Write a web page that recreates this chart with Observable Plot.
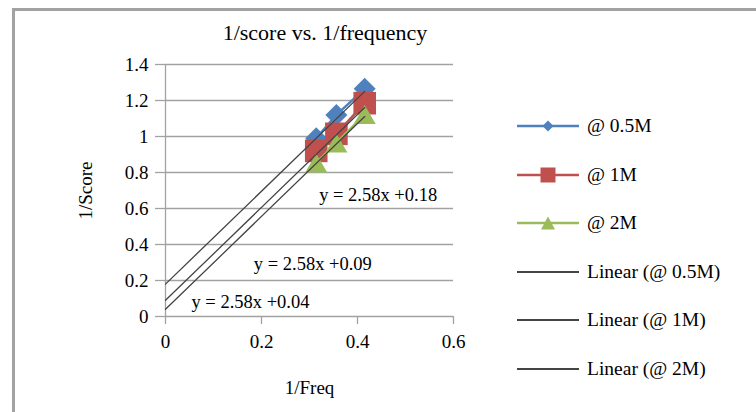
<!DOCTYPE html>
<html>
<head>
<meta charset="utf-8">
<script src="https://cdn.jsdelivr.net/npm/d3@7"></script>
<script src="https://cdn.jsdelivr.net/npm/@observablehq/plot@0.6"></script>
<style>
  html, body { margin: 0; padding: 0; background: #fff; }
  #wrap { position: relative; width: 756px; height: 412px; overflow: hidden; background: #fff;
          font-family: "Liberation Serif", "Times New Roman", serif; color: #000; }
  #frame { position: absolute; left: 12px; top: 8px; width: 800px; height: 500px;
           border-left: 3px solid #a2a2a2; border-top: 3px solid #a2a2a2; box-sizing: border-box; }
  #chart { position: absolute; left: 0; top: 0; }
  #title { position: absolute; left: 0; width: 650px; top: 21.5px; text-align: center;
           font-size: 22px; line-height: 22px; white-space: nowrap; }
  #legend { position: absolute; left: 517px; top: 101.75px; }
  .row { display: flex; align-items: center; height: 48.5px; }
  .row svg { display: block; }
  .row span { margin-left: 8px; font-size: 19.5px; white-space: nowrap; }
</style>
</head>
<body>
<div id="wrap">
  <div id="frame"></div>
  <div id="chart"></div>
  <div id="title"></div>
  <div id="legend"></div>
</div>
<script>
// ---- data ----
const chartTitle = "1/score vs. 1/frequency";
const xLabel = "1/Freq";
const yLabel = "1/Score";
const series = ["@ 0.5M", "@ 1M", "@ 2M"];
const trendNames = ["Linear (@ 0.5M)", "Linear (@ 1M)", "Linear (@ 2M)"];
const freq = [0.314, 0.356, 0.415];
const score05M = [0.99, 1.12, 1.265];
const score1M = [0.92, 1.015, 1.185];
const score2M = [0.853, 0.964, 1.122];
const slopes = [2.58, 2.58, 2.58];
const intercepts = [0.18, 0.09, 0.04];
const trendLabelX = [0.443, 0.307, 0.177];
const trendLabelY = [0.676, 0.292, 0.081];
const xTicks = [0, 0.2, 0.4, 0.6];
const xTickLabels = ["0", "0.2", "0.4", "0.6"];
const yTicks = [0, 0.2, 0.4, 0.6, 0.8, 1.0, 1.2, 1.4];
const yTickLabels = ["0", "0.2", "0.4", "0.6", "0.8", "1", "1.2", "1.4"];

// ---- styles ----
const colors = ["#4F81BD", "#C0504D", "#9BBB59"];
const trendColor = "#444444";
const gridColor = "#a2a2a2";
const font = "'Liberation Serif', 'Times New Roman', serif";

const diamondSym = { draw(ctx, size) { const h = Math.sqrt(size / Math.PI);
  ctx.moveTo(0, -h); ctx.lineTo(h, 0); ctx.lineTo(0, h); ctx.lineTo(-h, 0); ctx.closePath(); } };
const squareSym = { draw(ctx, size) { const h = Math.sqrt(size / Math.PI);
  ctx.moveTo(-h, -h); ctx.lineTo(h, -h); ctx.lineTo(h, h); ctx.lineTo(-h, h); ctx.closePath(); } };
const triangleSym = { draw(ctx, size) { const h = Math.sqrt(size / Math.PI);
  ctx.moveTo(0, -0.86 * h); ctx.lineTo(h, 0.86 * h); ctx.lineTo(-h, 0.86 * h); ctx.closePath(); } };
const symbols = [diamondSym, squareSym, triangleSym];
const markerR = [11, 11.3, 11];

const scores = [score05M, score1M, score2M];
const pts = scores.map((s, k) => freq.map((f, i) => ({x: f, y: s[i], k})));
const xMax = d3.max(freq);
const trends = slopes.flatMap((m, k) => [
  {x: 0, y: intercepts[k], k},
  {x: xMax, y: m * xMax + intercepts[k], k}
]);
const trendLabels = slopes.map((m, k) => ({
  x: trendLabelX[k], y: trendLabelY[k],
  text: `y = ${m}x +${intercepts[k].toFixed(2)}`
}));

const lookup = (ticks, labels) => d => labels[ticks.findIndex(t => Math.abs(t - d) < 1e-9)];

const seriesMarks = pts.flatMap((p, k) => [
  Plot.line(p, {x: "x", y: "y", stroke: colors[k], strokeWidth: 2.5}),
  Plot.dot(p, {x: "x", y: "y", symbol: symbols[k], r: markerR[k], fill: colors[k], stroke: "none"})
]);

const chart = Plot.plot({
  width: 756, height: 412,
  marginLeft: 165, marginRight: 303, marginTop: 64, marginBottom: 96,
  x: {domain: [0, 0.6]},
  y: {domain: [0, 1.4]},
  style: {fontFamily: font, fontSize: "19px", color: "#000", background: "transparent", overflow: "visible"},
  marks: [
    Plot.gridY(yTicks, {stroke: gridColor, strokeOpacity: 1, strokeWidth: 1.3}),
    Plot.ruleX([0], {stroke: gridColor, strokeWidth: 1.3}),
    Plot.axisY(yTicks, {tickFormat: lookup(yTicks, yTickLabels), tickSize: 10, tickPadding: 7,
      stroke: gridColor, strokeOpacity: 1, strokeWidth: 1.3, fontSize: 19,
      label: yLabel, labelAnchor: "center", labelOffset: 87, labelArrow: "none"}),
    Plot.axisX(xTicks, {tickFormat: lookup(xTicks, xTickLabels), tickSize: 8, tickPadding: 10,
      stroke: gridColor, strokeOpacity: 1, strokeWidth: 1.3, fontSize: 19,
      label: xLabel, labelAnchor: "center", labelOffset: 77, labelArrow: "none"}),
    ...seriesMarks,
    Plot.line(trends, {x: "x", y: "y", z: "k", stroke: trendColor, strokeWidth: 1.3}),
    Plot.text(trendLabels, {x: "x", y: "y", text: "text", fontSize: 18.5, fill: "#000", textAnchor: "middle"})
  ]
});
document.getElementById("chart").appendChild(chart);
document.getElementById("title").textContent = chartTitle;

// ---- legend ----
const legend = d3.select("#legend");
const legendSym = [
  g => g.append("path").attr("d", "M31,4.5 L36.5,10 L31,15.5 L25.5,10 Z"),
  g => g.append("rect").attr("x", 23.5).attr("y", 2.5).attr("width", 15).attr("height", 15),
  g => g.append("path").attr("d", "M31,3.5 L38,16.5 L24,16.5 Z")
];
series.forEach((name, k) => {
  const row = legend.append("div").attr("class", "row");
  const svg = row.append("svg").attr("width", 62).attr("height", 20);
  svg.append("line").attr("x1", 0).attr("x2", 62).attr("y1", 10).attr("y2", 10)
    .attr("stroke", colors[k]).attr("stroke-width", 2.5);
  legendSym[k](svg).attr("fill", colors[k]);
  row.append("span").text(name);
});
trendNames.forEach(name => {
  const row = legend.append("div").attr("class", "row");
  const svg = row.append("svg").attr("width", 62).attr("height", 20);
  svg.append("line").attr("x1", 0).attr("x2", 62).attr("y1", 10).attr("y2", 10)
    .attr("stroke", trendColor).attr("stroke-width", 2);
  row.append("span").text(name);
});
</script>
</body>
</html>
